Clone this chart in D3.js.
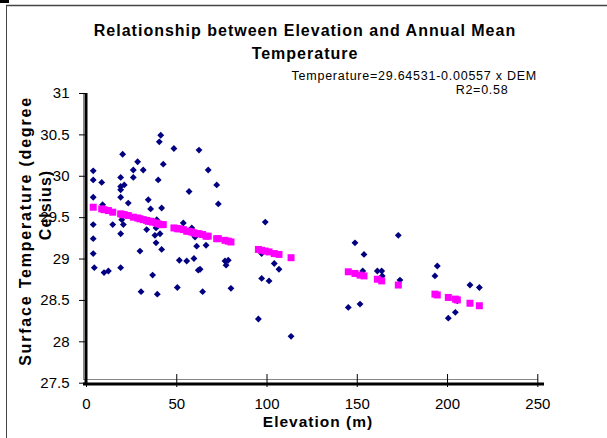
<!DOCTYPE html>
<html>
<head>
<meta charset="utf-8">
<script src="https://cdn.jsdelivr.net/npm/d3@7"></script>
<style>
  body { margin: 0; background: #fff; }
  text { font-family: Arial, "Liberation Sans", sans-serif; }
</style>
</head>
<body>
<div id="chart"></div>
<script>
// observed stations: elevation (m) and surface temperature (deg C)
const elevation = [4.0, 4.0, 8.7, 4.0, 9.2, 4.0, 4.0, 14.8, 20.3, 19.2, 19.2, 19.2, 19.2, 21.2, 23.4, 19.8, 20.7, 19.2,
  26.2, 26.2, 28.6, 31.7, 34.5, 35.8, 40.0, 40.6, 41.4, 42.8, 41.9, 39.2, 38.8, 33.6, 38.2, 41.0, 48.7, 57.1, 53.9,
  62.6, 67.7, 72.4, 73.3, 58.6, 60.4, 4.0, 4.6, 10.0, 12.4, 19.2, 29.9, 30.5, 36.9, 39.5, 41.9, 38.8, 50.6, 51.7,
  55.8, 59.8, 62.2, 63.2, 61.3, 66.5, 64.6, 99.3, 97.3, 77.0, 78.8, 77.6, 80.3, 104.3, 106.9, 97.3, 101.4, 95.5,
  113.6, 145.3, 149.0, 154.0, 153.3, 151.8, 161.4, 163.8, 164.1, 173.0, 173.9, 194.6, 193.3, 212.7, 217.9, 205.7,
  204.6, 200.7];
const temperature = [30.06, 29.95, 29.92, 29.74, 29.65, 29.41, 29.24, 29.41, 30.26, 29.98, 29.87, 29.83, 29.74, 29.89,
  29.67, 29.47, 29.41, 29.30, 30.07, 29.98, 30.17, 30.07, 29.71, 29.60, 29.95, 30.41, 30.49, 30.14, 29.61, 29.47,
  29.37, 29.35, 29.28, 29.30, 30.33, 29.81, 29.43, 30.31, 30.07, 29.89, 29.66, 29.37, 29.26, 29.06, 28.89, 28.83,
  28.85, 28.89, 29.09, 28.60, 28.80, 28.57, 29.11, 29.19, 28.65, 28.98, 28.97, 29.00, 28.86, 28.87, 29.15, 29.16,
  28.60, 29.44, 29.06, 28.97, 28.98, 28.92, 28.64, 28.94, 28.87, 28.76, 28.73, 28.27, 28.06, 28.41, 29.19, 29.05,
  28.85, 28.45, 28.85, 28.85, 28.79, 29.28, 28.74, 28.91, 28.79, 28.68, 28.65, 28.49, 28.35, 28.28];

// fitted values (pink squares)
const fitElevation = [4, 8.7, 10, 12.4, 14.8, 19.2, 20.3, 21.2, 23.4, 26.2, 28.6, 29.9, 31.7, 33.6, 34.5, 35.8, 36.9,
  38.8, 40.0, 41.4, 42.8, 48.7, 50.6, 51.7, 53.9, 55.8, 57.1, 58.6, 59.8, 61.3, 62.6, 64.6, 66.5, 67.7, 72.4, 73.3,
  77.0, 78.8, 80.3, 95.5, 97.3, 99.3, 101.4, 104.3, 106.9, 113.6, 145.3, 149.0, 151.8, 154.0, 161.4, 163.8, 173.0,
  193.3, 194.6, 200.7, 204.6, 205.7, 212.7, 217.9];
const fitTemperature = [29.62, 29.60, 29.59, 29.58, 29.56, 29.54, 29.53, 29.53, 29.52, 29.50, 29.49, 29.48, 29.47,
  29.46, 29.45, 29.45, 29.44, 29.43, 29.42, 29.41, 29.41, 29.37, 29.36, 29.36, 29.35, 29.33, 29.33, 29.32, 29.31,
  29.30, 29.30, 29.29, 29.27, 29.27, 29.24, 29.24, 29.22, 29.21, 29.20, 29.11, 29.10, 29.09, 29.08, 29.06, 29.05,
  29.01, 28.84, 28.82, 28.80, 28.79, 28.75, 28.73, 28.68, 28.57, 28.56, 28.53, 28.51, 28.50, 28.46, 28.43];

const xTicks = [0, 50, 100, 150, 200, 250];
const yTicks = [27.5, 28, 28.5, 29, 29.5, 30, 30.5, 31];

const width = 607, height = 438;

const svg = d3.select("#chart").append("svg")
  .attr("width", width)
  .attr("height", height);

svg.append("rect").attr("width", width).attr("height", height).attr("fill", "#fff");

// chart frame (cut off on the right and bottom)
svg.append("rect").attr("x", 0).attr("y", 0).attr("width", 9).attr("height", 3).attr("fill", "#000");
svg.append("line").attr("x1", 6).attr("x2", width).attr("y1", 5.5).attr("y2", 5.5)
  .attr("stroke", "#444").attr("stroke-width", 1.5);
svg.append("line").attr("x1", 6.5).attr("x2", 6.5).attr("y1", 5).attr("y2", height)
  .attr("stroke", "#444").attr("stroke-width", 1);

const x = d3.scaleLinear().domain([0, 250]).range([86, 537.3]);
const y = d3.scaleLinear().domain([27.5, 31]).range([382.7, 93]);

// thin plot-area border
svg.append("line").attr("x1", 83.5).attr("x2", 83.5).attr("y1", 93).attr("y2", 380)
  .attr("stroke", "#888").attr("stroke-width", 1);
svg.append("line").attr("x1", 83.5).attr("x2", 538).attr("y1", 379.5).attr("y2", 379.5)
  .attr("stroke", "#888").attr("stroke-width", 1);

// y axis
const yAxis = svg.append("g")
  .attr("transform", "translate(86,0)")
  .call(d3.axisLeft(y).tickValues(yTicks).tickSize(7).tickPadding(9.5).tickFormat(d3.format("")));
yAxis.select(".domain").attr("stroke", "#000").attr("stroke-width", 3).attr("d", `M0,${y(31)}V${y(27.5) + 2}`);
yAxis.selectAll(".tick line").attr("stroke", "#000");
yAxis.selectAll(".tick text").attr("fill", "#000").style("font-size", "15px");

// x axis with crossing ticks
const xAxis = svg.append("g")
  .attr("transform", "translate(0,384)")
  .call(d3.axisBottom(x).tickValues(xTicks).tickSize(4).tickPadding(10));
xAxis.select(".domain").attr("stroke", "#000").attr("stroke-width", 3).attr("d", "M83,0H544");
xAxis.selectAll(".tick line").attr("stroke", "#000").attr("y1", -10).attr("y2", 3);
xAxis.selectAll(".tick text").attr("fill", "#000").style("font-size", "15px");

// observed points (navy diamonds)
const obs = elevation.map((e, i) => [e, temperature[i]]);
svg.append("g").selectAll("path")
  .data(obs)
  .join("path")
  .attr("transform", d => `translate(${x(d[0])},${y(d[1])})`)
  .attr("d", d3.symbol(d3.symbolDiamond2, 30))
  .attr("fill", "#000080");

// fitted points (magenta squares)
const fit = fitElevation.map((e, i) => [e, fitTemperature[i]]);
svg.append("g").selectAll("rect")
  .data(fit)
  .join("rect")
  .attr("x", d => x(d[0]) - 3.5)
  .attr("y", d => y(d[1]) - 3.5)
  .attr("width", 7)
  .attr("height", 7)
  .attr("fill", "#ff00ff");

// titles
const title = svg.append("text")
  .attr("text-anchor", "middle")
  .style("font-size", "16px").style("font-weight", "bold").style("letter-spacing", "1px");
title.append("tspan").attr("x", 305).attr("y", 36).text("Relationship between Elevation and Annual Mean");
title.append("tspan").attr("x", 305).attr("y", 59).text("Temperature");

svg.append("text")
  .attr("x", 318).attr("y", 427)
  .attr("text-anchor", "middle")
  .style("font-size", "15.5px").style("font-weight", "bold").style("letter-spacing", "1px")
  .text("Elevation (m)");

svg.append("text")
  .attr("transform", "translate(31,231) rotate(-90)")
  .attr("text-anchor", "middle")
  .style("font-size", "16px").style("font-weight", "bold").style("letter-spacing", "1.8px")
  .text("Surface Temperature (degree");
svg.append("text")
  .attr("transform", "translate(51,205) rotate(-90)")
  .attr("text-anchor", "middle")
  .style("font-size", "16px").style("font-weight", "bold").style("letter-spacing", "1px")
  .text("Celsius)");

// regression annotation
svg.append("text")
  .attr("x", 537).attr("y", 79.5)
  .attr("text-anchor", "end")
  .style("font-size", "12.5px").style("letter-spacing", "0.75px")
  .text("Temperature=29.64531-0.00557 x DEM");
svg.append("text")
  .attr("x", 508.5).attr("y", 93.5)
  .attr("text-anchor", "end")
  .style("font-size", "12.5px").style("letter-spacing", "0.75px")
  .text("R2=0.58");
</script>
</body>
</html>
